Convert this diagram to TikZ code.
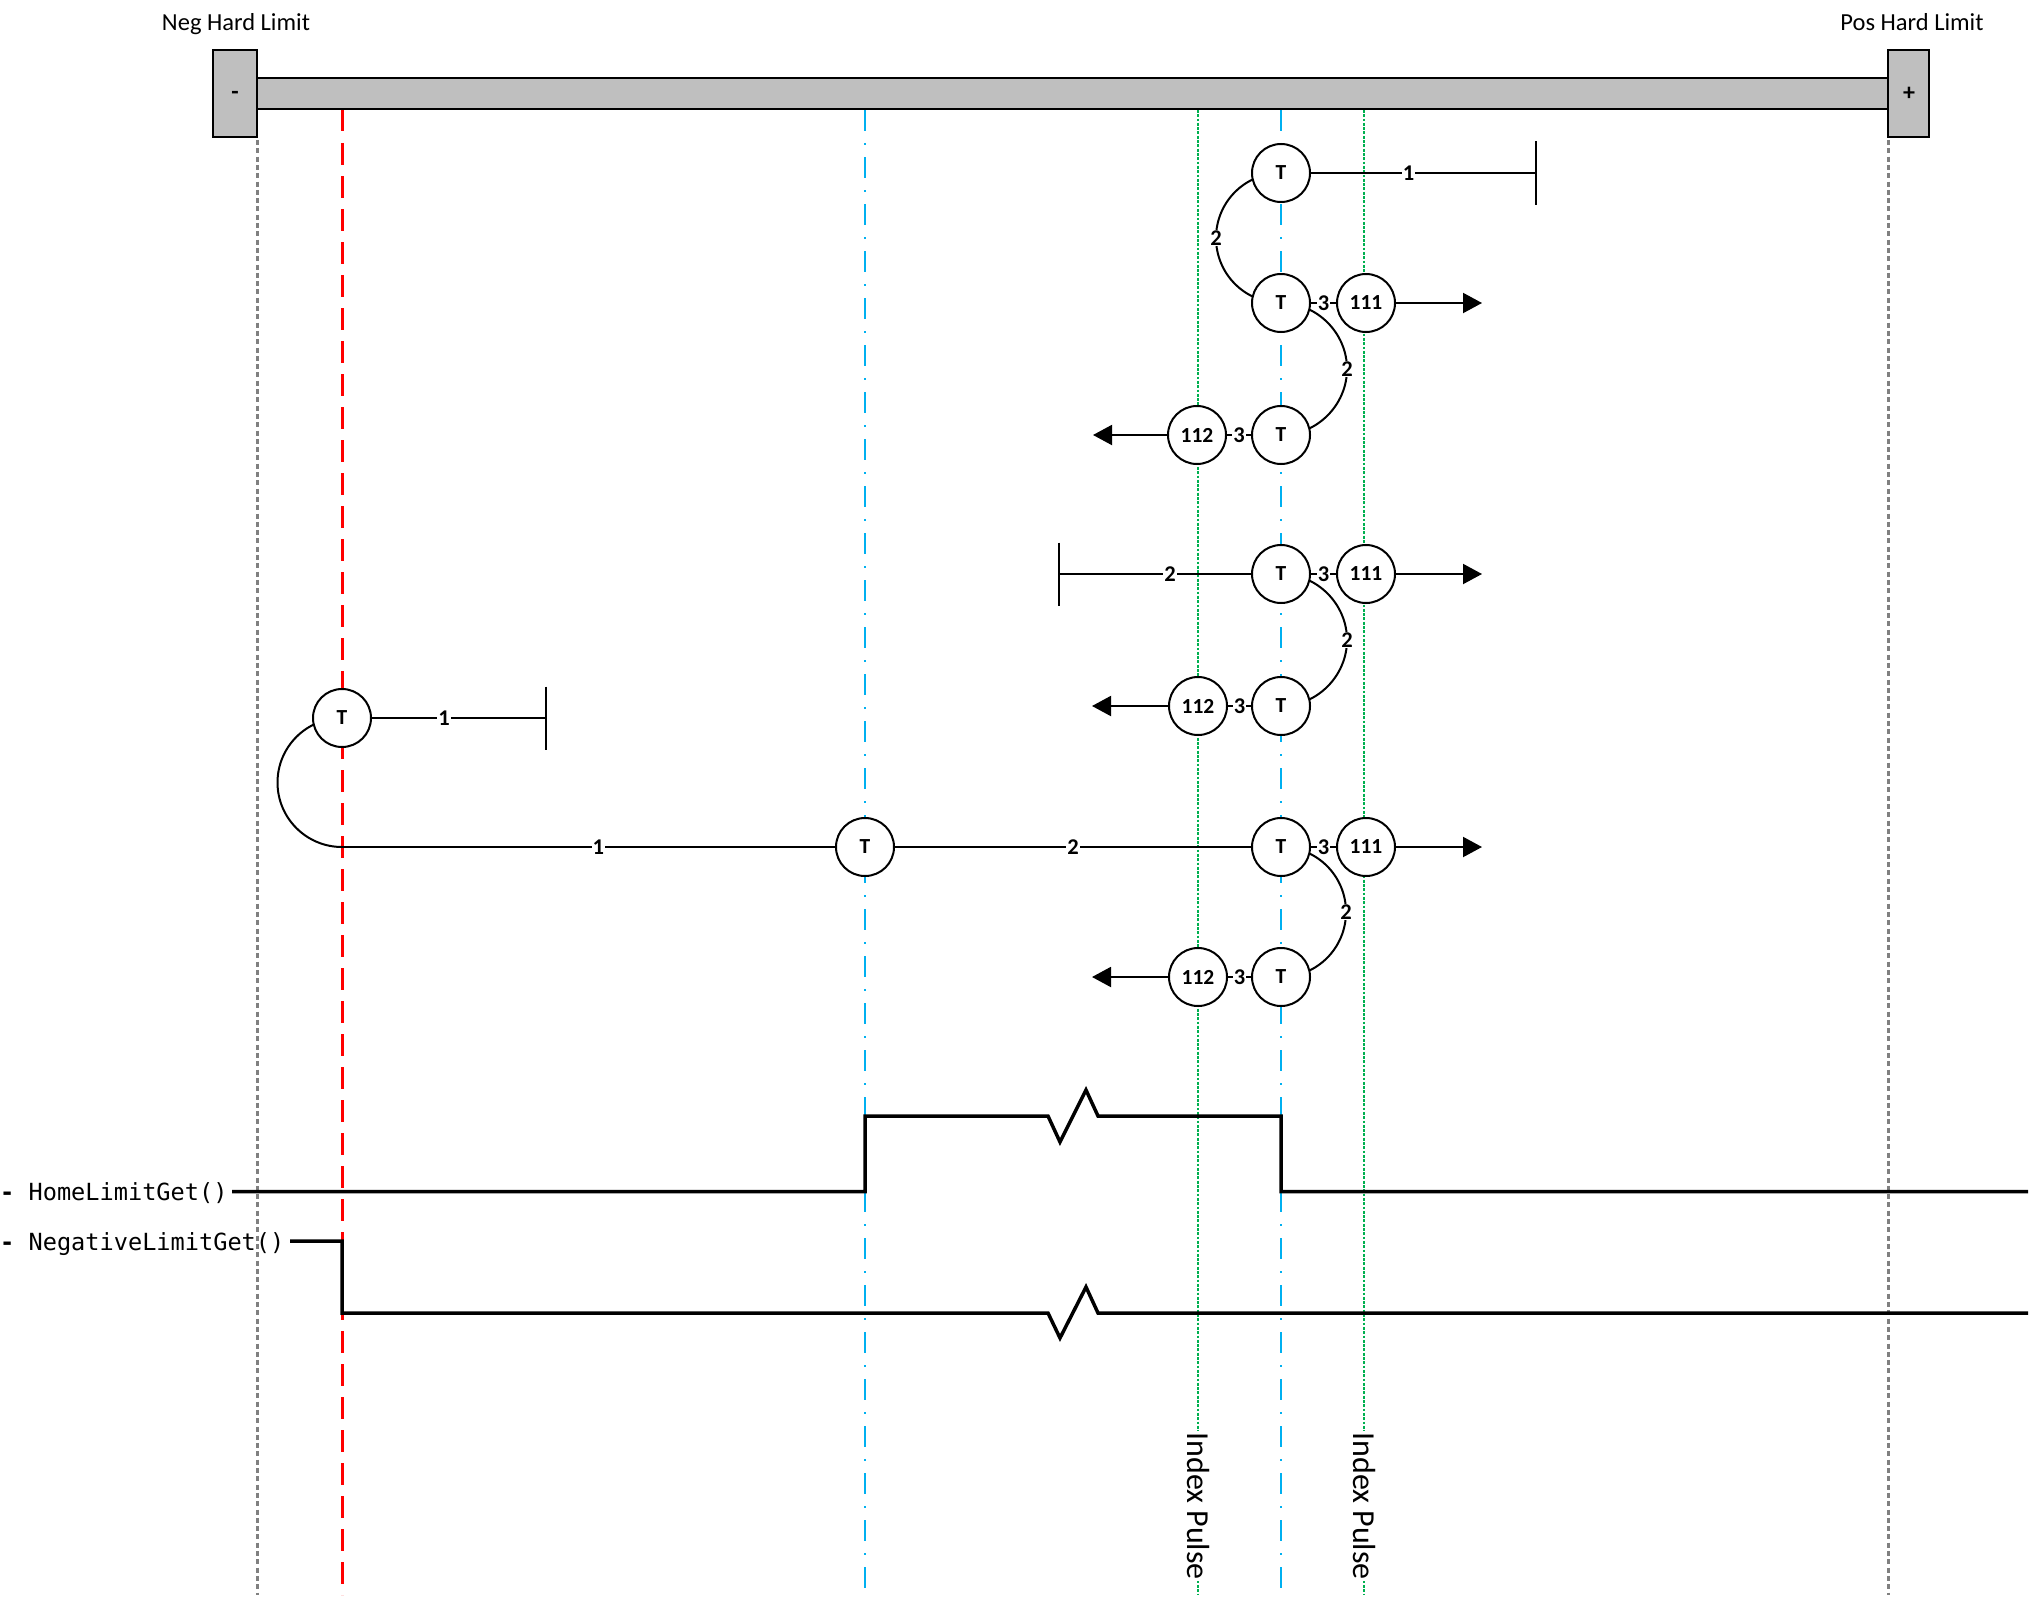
\documentclass[tikz,border=0pt]{standalone}
\usepackage{fontspec}
\setmainfont{Carlito}
\newfontfamily\codefont{DejaVu Sans Mono}
\usetikzlibrary{arrows.meta}
\pgfdeclarelayer{guides}
\pgfdeclarelayer{conn}
\pgfsetlayers{guides,conn,main}
\definecolor{barfill}{RGB}{191,191,191}
\definecolor{homeblue}{RGB}{0,176,240}
\definecolor{idxgreen}{RGB}{0,176,80}
\definecolor{limred}{RGB}{255,0,0}
\definecolor{guidegray}{RGB}{128,128,128}
\begin{document}
\begin{tikzpicture}[x=1pt,y=-1pt,
  state/.style={circle,draw,line width=2pt,fill=white,minimum size=58pt,inner sep=0pt,font=\fontsize{21.5}{21.5}\selectfont\bfseries},
  conn/.style={line width=2pt},
  elabel/.style={fill=white,inner sep=1pt,font=\fontsize{22.5}{22.5}\selectfont\bfseries},
  wave/.style={line width=3.5pt,line join=miter},
  graydot/.style={guidegray,line width=3pt,dash pattern=on 5pt off 3.3pt},
  redline/.style={limred,line width=3pt,dash pattern=on 21.5pt off 11.5pt},
  blueline/.style={homeblue,line width=2.5pt,dash pattern=on 21pt off 12pt on 2pt off 12pt},
  greenline/.style={idxgreen,line width=2.7pt,dash pattern=on 2.8pt off 1.5pt},
  stopbar/.style={line width=2pt},
  arr/.style={line width=2pt,-{Triangle[length=19pt,width=20pt]}},
  limtext/.style={font=\fontsize{24.5}{25}\selectfont,inner sep=0pt,anchor=base},
  boxtext/.style={font=\fontsize{24}{24}\selectfont\bfseries},
  idx/.style={rotate=-90,fill=white,inner sep=1pt,font=\fontsize{32}{32}\selectfont},
  code/.style={anchor=base west,inner sep=0pt,font=\codefont\fontsize{23.6}{24}\selectfont}
]
\useasboundingbox (0,0) rectangle (2031,1600);

% ---- travel bar and hard limits
\draw[line width=2pt,fill=barfill] (257,78) rectangle (1888,109);
\draw[line width=2pt,fill=barfill] (213,50) rectangle (257,137);
\draw[line width=2pt,fill=barfill] (1888,50) rectangle (1929,137);
\node[boxtext] (minus) at (235,95) {-};
\node[boxtext] (plus) at (1909,94) {+};
\node[limtext] (negl) at (236,31) {Neg Hard Limit};
\node[limtext] (posl) at (1912,31) {Pos Hard Limit};

% ---- guide lines
\begin{pgfonlayer}{guides}
\draw[graydot] (257,140) -- (257,1595);
\draw[graydot] (1888,140) -- (1888,1595);
\draw[redline] (342,110) -- (342,1595);
\draw[blueline] (865,110) -- (865,1595);
\draw[blueline] (1281,110) -- (1281,1595);
\draw[greenline] (1198,110) -- (1198,1595);
\draw[greenline] (1364,110) -- (1364,1595);
\end{pgfonlayer}

% ---- state nodes
\node[state] (g1t1) at (1281,173) {T};
\node[state] (g1t2) at (1281,303) {T};
\node[state] (g1r)  at (1366,303) {111};
\node[state] (g1t3) at (1281,435) {T};
\node[state] (g1l)  at (1197,435) {112};

\node[state] (g2t1) at (1281,574) {T};
\node[state] (g2r)  at (1366,574) {111};
\node[state] (g2t2) at (1281,706) {T};
\node[state] (g2l)  at (1198,706) {112};

\node[state] (g3t1) at (1281,847) {T};
\node[state] (g3r)  at (1366,847) {111};
\node[state] (g3t2) at (1281,977) {T};
\node[state] (g3l)  at (1198,977) {112};

\node[state] (la) at (342,718) {T};
\node[state] (lb) at (865,847) {T};

\coordinate (e1) at (1536,173);
\coordinate (e2) at (1059,574);
\coordinate (e3) at (546,718);
\coordinate (c1) at (342,847);
\coordinate (a1) at (1482,303);
\coordinate (a2) at (1093,435);
\coordinate (a3) at (1482,574);
\coordinate (a4) at (1092,706);
\coordinate (a5) at (1482,847);
\coordinate (a6) at (1092,977);

% ---- connectors
\begin{pgfonlayer}{conn}
% group 1
\draw[conn] (g1t1.center) -- node[elabel]{1} (e1);
\draw[stopbar] (e1) ++(0,-31.5) -- ++(0,63);
\draw[conn] (g1t1.center) .. controls +(-36,0) and +(0,-36) .. ++(-65,65)
   node[elabel]{2} .. controls +(0,36) and +(-36,0) .. (g1t2.center);
\draw[conn] (g1t2.center) -- node[elabel]{3} (g1r.center);
\draw[conn] (g1t2.center) .. controls +(36,0) and +(0,-36) .. ++(66,66)
   node[elabel]{2} .. controls +(0,36) and +(36,0) .. (g1t3.center);
\draw[conn] (g1l.center) -- node[elabel]{3} (g1t3.center);
% group 2
\draw[conn] (e2) -- node[elabel]{2} (g2t1.center);
\draw[stopbar] (e2) ++(0,-31.5) -- ++(0,63);
\draw[conn] (g2t1.center) -- node[elabel]{3} (g2r.center);
\draw[conn] (g2t1.center) .. controls +(36,0) and +(0,-36) .. ++(66,66)
   node[elabel]{2} .. controls +(0,36) and +(36,0) .. (g2t2.center);
\draw[conn] (g2l.center) -- node[elabel]{3} (g2t2.center);
% group 3
\draw[conn] (lb.center) -- node[elabel]{2} (g3t1.center);
\draw[conn] (g3t1.center) -- node[elabel]{3} (g3r.center);
\draw[conn] (g3t1.center) .. controls +(36,0) and +(0,-36) .. ++(65,65)
   node[elabel]{2} .. controls +(0,36) and +(36,0) .. (g3t2.center);
\draw[conn] (g3l.center) -- node[elabel]{3} (g3t2.center);
% left start
\draw[conn] (la.center) -- node[elabel]{1} (e3);
\draw[stopbar] (e3) ++(0,-31.5) -- ++(0,63);
\draw[conn] (la.center) .. controls +(-35.6,0) and +(0,-35.6) .. ++(-64.5,64.5)
   .. controls +(0,35.6) and +(-35.6,0) .. (c1);
\draw[conn] (c1) -- node[elabel,pos=0.49]{1} (lb.center);

% ---- timing waveforms
\draw[wave] (232,1191.5) -- (865,1191.5) -- (865,1116) -- (1048,1116) -- (1060,1142)
   -- (1086,1090) -- (1098,1116) -- (1281,1116) -- (1281,1191.5) -- (2028,1191.5);
\draw[wave] (290,1241) -- (342,1241) -- (342,1313) -- (1048,1313) -- (1060,1338)
   -- (1086,1287) -- (1098,1313) -- (2028,1313);
\end{pgfonlayer}

% ---- exit arrows
\draw[arr] (g1r) -- (a1);
\draw[arr] (g1l) -- (a2);
\draw[arr] (g2r) -- (a3);
\draw[arr] (g2l) -- (a4);
\draw[arr] (g3r) -- (a5);
\draw[arr] (g3l) -- (a6);

% ---- signal names
\node[code] (home) at (0,1200) {{\bfseries -} HomeLimitGet()};
\node[code] (negs) at (0,1250) {{\bfseries -} NegativeLimitGet()};

% ---- index pulse labels
\node[idx] (ip1) at (1198,1506) {Index Pulse};
\node[idx] (ip2) at (1364,1506) {Index Pulse};
\end{tikzpicture}
\end{document}
